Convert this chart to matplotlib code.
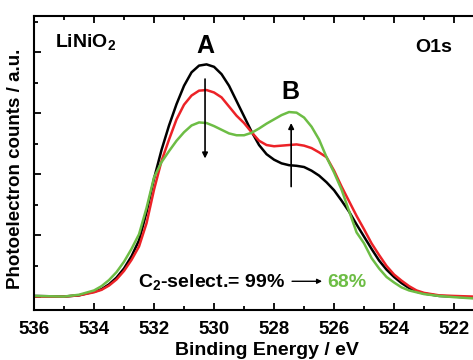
"""
O1s XPS spectra of LiNiO2
"""

import numpy as np
import matplotlib
matplotlib.use('Agg')
import matplotlib.pyplot as plt
from matplotlib.ticker import MultipleLocator, NullFormatter

plt.rcParams['font.family'] = ['Liberation Sans', 'DejaVu Sans']
plt.rcParams['font.weight'] = 'bold'
plt.rcParams['mathtext.fontset'] = 'custom'
plt.rcParams['mathtext.rm'] = 'Liberation Sans:bold'
plt.rcParams['mathtext.bf'] = 'Liberation Sans:bold'

# DATA
be = [536.0, 535.0, 534.5, 534.0, 533.75, 533.5, 533.25, 533.0, 532.75, 532.5,
      532.25, 532.0, 531.75, 531.5, 531.25, 531.0, 530.75, 530.5, 530.25, 530.0,
      529.75, 529.5, 529.25, 529.0, 528.75, 528.5, 528.25, 528.0, 527.75, 527.5,
      527.25, 527.0, 526.75, 526.5, 526.25, 526.0, 525.75, 525.5, 525.25, 525.0,
      524.75, 524.5, 524.25, 524.0, 523.75, 523.5, 523.25, 523.0, 522.5, 522.0,
      521.37]

int_black = [0.01, 0.0, 0.02, 0.08, 0.12, 0.20, 0.31, 0.46, 0.66, 0.92,
             1.38, 1.93, 2.40, 2.80, 3.15, 3.45, 3.67, 3.78, 3.80, 3.76,
             3.64, 3.45, 3.20, 2.95, 2.70, 2.48, 2.33, 2.24, 2.18, 2.15,
             2.14, 2.12, 2.06, 1.98, 1.87, 1.74, 1.57, 1.39, 1.18, 0.98,
             0.78, 0.59, 0.44, 0.32, 0.22, 0.14, 0.08, 0.05, 0.01, 0.0,
             -0.02]

int_red = [0.0, 0.0, 0.02, 0.07, 0.11, 0.18, 0.28, 0.42, 0.60, 0.82,
           1.20, 1.75, 2.22, 2.57, 2.90, 3.14, 3.29, 3.37, 3.38, 3.34,
           3.26, 3.11, 2.96, 2.84, 2.69, 2.55, 2.48, 2.46, 2.47, 2.48,
           2.49, 2.47, 2.43, 2.36, 2.28, 2.06, 1.80, 1.56, 1.32, 1.10,
           0.87, 0.68, 0.50, 0.36, 0.26, 0.17, 0.10, 0.06, 0.02, 0.01,
           0.0]

int_green = [0.01, 0.0, 0.03, 0.10, 0.17, 0.27, 0.40, 0.57, 0.78, 1.02,
             1.45, 1.95, 2.20, 2.38, 2.55, 2.69, 2.80, 2.85, 2.84, 2.79,
             2.73, 2.67, 2.64, 2.64, 2.68, 2.75, 2.83, 2.90, 2.97, 3.02,
             3.01, 2.93, 2.78, 2.57, 2.28, 2.03, 1.75, 1.40, 1.05, 0.87,
             0.63, 0.46, 0.32, 0.23, 0.15, 0.10, 0.07, 0.04, 0.01, -0.01,
             -0.03]

# PLOT
fig = plt.figure(figsize=(4.73, 3.6), dpi=100)
ax = fig.add_axes([34/473, 50/360, 439/473, 294.5/360])

ax.plot(be, int_black, color='black', lw=1.8)
ax.plot(be, int_red, color='#ec2227', lw=1.8)
ax.plot(be, int_green, color='#6dbd45', lw=1.8)

ax.set_xlim(536, 521.37)
ax.set_ylim(-0.22, 4.6)

ax.xaxis.set_major_locator(MultipleLocator(2))
ax.xaxis.set_minor_locator(MultipleLocator(1))
ax.yaxis.set_major_locator(MultipleLocator(1))
ax.yaxis.set_minor_locator(MultipleLocator(0.5))
ax.yaxis.set_major_formatter(NullFormatter())
ax.tick_params(axis='x', which='both', direction='in', top=True, bottom=True,
               labelsize=13.5, pad=8, width=1.3)
ax.tick_params(axis='y', which='both', direction='in', left=True, right=False, width=1.3)
ax.tick_params(which='major', length=5)
ax.tick_params(which='minor', length=3)
for s in ['left', 'bottom', 'top']:
    ax.spines[s].set_linewidth(1.5)
ax.spines['right'].set_visible(False)
for lab in ax.get_xticklabels():
    lab.set_fontweight('bold')

ax.set_xlabel('Binding Energy / eV', fontsize=14, fontweight='bold')
ax.xaxis.set_label_coords(0.53, -0.108)
ax.set_ylabel('Photoelectron counts / a.u.', fontsize=13.5, fontweight='bold')
ax.yaxis.set_label_coords(-0.022, 0.48)

# annotations
ax.annotate('', xy=(530.3, 2.26), xytext=(530.3, 3.56),
            arrowprops=dict(arrowstyle='-|>', color='black', lw=1.2, mutation_scale=8,
                            shrinkA=0, shrinkB=0))
ax.annotate('', xy=(527.43, 2.84), xytext=(527.43, 1.80),
            arrowprops=dict(arrowstyle='-|>', color='black', lw=1.2, mutation_scale=8,
                            shrinkA=0, shrinkB=0))
ax.text(530.3, 4.10, 'A', fontsize=18, fontweight='bold', ha='center', va='center')
ax.text(527.47, 3.34, 'B', fontsize=18, fontweight='bold', ha='center', va='center')
ax.text(535.3, 4.08, r'LiNiO$_{2}$', fontsize=14, fontweight='bold', ha='left', va='baseline')
ax.text(523.3, 4.0, 'O1s', fontsize=14, fontweight='bold', ha='left', va='baseline')

ax.text(532.53, 0.15, r'C$_{2}$-select.= 99%', fontsize=14, fontweight='bold',
        ha='left', va='baseline')
ax.annotate('', xy=(526.4, 0.25), xytext=(527.4, 0.25),
            arrowprops=dict(arrowstyle='-|>', color='black', lw=1.0, mutation_scale=7,
                            shrinkA=0, shrinkB=0))
ax.text(526.23, 0.15, '68%', fontsize=14, fontweight='bold', color='#6dbd45',
        ha='left', va='baseline')

plt.savefig('out.png', dpi=100)
